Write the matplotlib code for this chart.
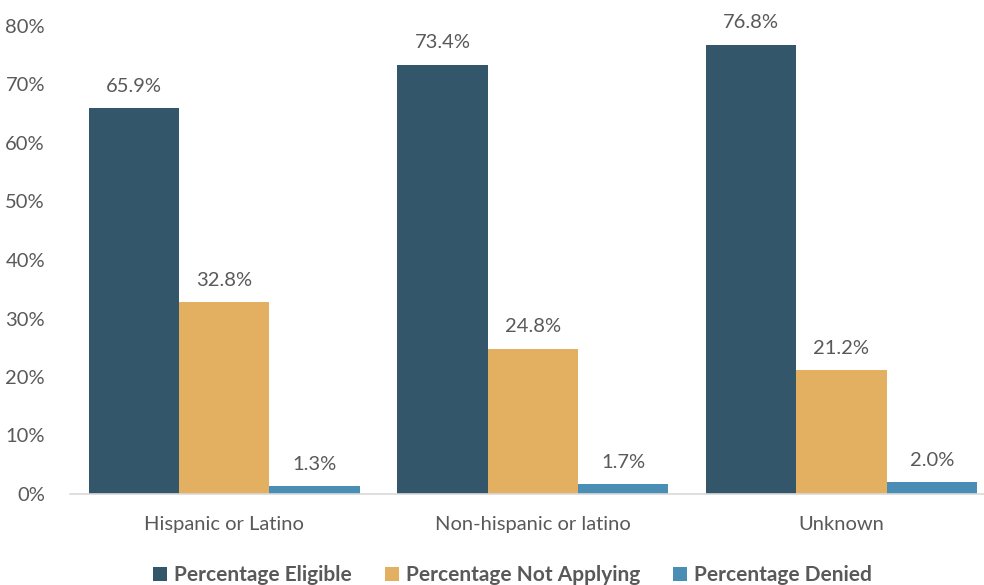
import matplotlib.pyplot as plt
import numpy as np

plt.rcParams['font.family'] = ['Lato', 'DejaVu Sans']

groups = ['Hispanic or Latino', 'Non-hispanic or latino', 'Unknown']
series = ['Percentage Eligible', 'Percentage Not Applying', 'Percentage Denied']
eligible = [65.9, 73.4, 76.8]
not_applying = [32.8, 24.8, 21.2]
denied = [1.3, 1.7, 2.0]
colors = ['#34566b', '#e3b062', '#4a8db5']
text_color = '#595959'

fig = plt.figure(figsize=(9.84, 5.85), dpi=100)
ax = fig.add_axes([70 / 984, (585 - 494) / 585, (984 - 70) / 984, 468 / 585])

x = np.arange(len(groups))
width = 0.293
for i, (vals, name) in enumerate(zip([eligible, not_applying, denied], series)):
    pos = x + (i - 1) * width
    ax.bar(pos, vals, width, color=colors[i], label=name)
    for px, v in zip(pos, vals):
        ax.text(px, v + 2.3, f'{v:.1f}%', ha='center', va='bottom',
                fontsize=14.5, color=text_color)

ax.set_xlim(-0.5, 2.462)
ax.set_ylim(0, 80)
ax.set_yticks(np.arange(0, 81, 10))
ax.set_yticklabels([f'{t}%' for t in range(0, 81, 10)])
ax.set_xticks(x)
ax.set_xticklabels(groups)
ax.tick_params(axis='both', length=0, labelsize=14.5, colors=text_color)
ax.tick_params(axis='y', pad=18)
ax.tick_params(axis='x', pad=16)
for s in ['top', 'right', 'left']:
    ax.spines[s].set_visible(False)
ax.spines['bottom'].set_color('#d9d9d9')
ax.spines['bottom'].set_linewidth(1.2)

leg = fig.legend(loc='lower center', bbox_to_anchor=(0.521, -0.032), ncol=3,
                 frameon=False, handlelength=0.65, handleheight=0.65,
                 handletextpad=0.35, columnspacing=1.6,
                 prop={'weight': 'bold', 'size': 15})
for t in leg.get_texts():
    t.set_color(text_color)

fig.savefig('out.png', dpi=100)
